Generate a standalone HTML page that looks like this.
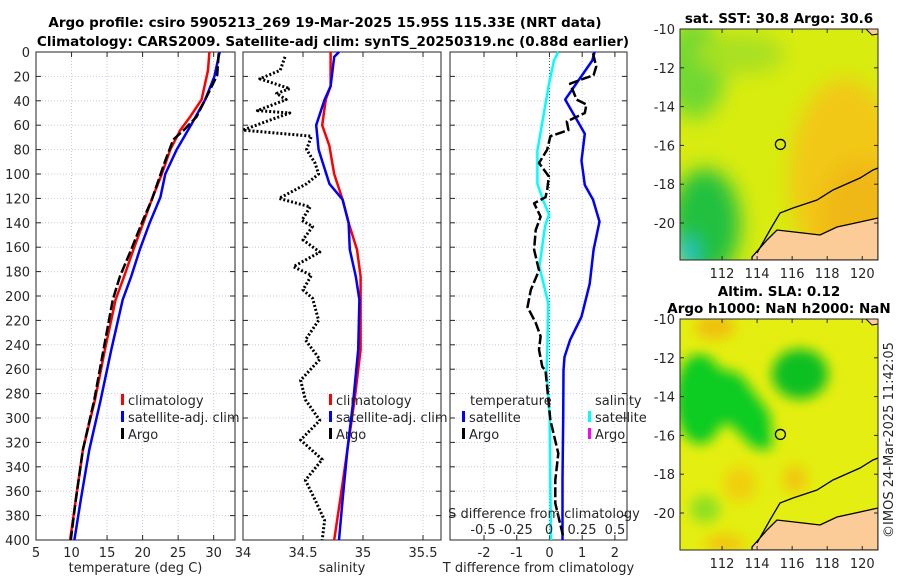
<!DOCTYPE html>
<html><head><meta charset="utf-8"><style>
html,body{margin:0;padding:0;background:#fff;}
svg{display:block;font-family:"DejaVu Sans","Liberation Sans",sans-serif;}
.t{font-size:13px;fill:#262626;}
.b{font-weight:bold;font-size:13.5px;fill:#000;}
</style></head><body>
<svg id="fig" width="900" height="580" viewBox="0 0 900 580" xmlns="http://www.w3.org/2000/svg">
<defs>
<filter id="blur6"><feGaussianBlur stdDeviation="6"/></filter>
<filter id="blur10"><feGaussianBlur stdDeviation="10"/></filter>
<clipPath id="clipM1"><rect x="680" y="29" width="198" height="231"/></clipPath>
<clipPath id="clipM2"><rect x="680" y="319" width="198" height="231"/></clipPath>
</defs>
<text class="b" x="325" y="27" text-anchor="middle">Argo profile: csiro 5905213_269 19-Mar-2025 15.95S 115.33E (NRT data)</text>
<text class="b" x="333" y="46" text-anchor="middle">Climatology: CARS2009. Satellite-adj clim: synTS_20250319.nc (0.88d earlier)</text>
<g id="panels"></g>
<g id="maps"></g>
<text class="t" transform="translate(893,440) rotate(-90)" text-anchor="middle">©IMOS 24-Mar-2025 11:42:05</text>
</svg>
<script>
// ---- data ----
const tClimDepth=[0,15,39,53,64,80,100,121,140,162,184,203,244,285,326,367,400];
const tClim=[29.4,29.2,28.3,26.7,25.3,23.9,22.7,21.3,20.1,18.7,17.4,16.2,14.7,13.3,11.6,10.6,9.8];
const tSatDepth=[0,20,39,59,80,100,119,140,162,184,203,244,285,326,367,400];
const tSat=[30.85,30.1,28.8,26.9,24.8,23.2,22.5,21.0,19.6,18.4,17.2,15.6,14.1,12.5,11.3,10.4];
const tArgoDepth=[1,19,39,53,64,72,89,121,140,162,184,203,244,285,326,367,400];
const tArgo=[30.7,30.5,28.8,27.6,25.8,24.3,23.2,21.3,19.9,18.4,16.8,15.8,14.5,13.2,11.6,10.6,9.9];
const sClimDepth=[0,28,39,60,77,100,121,140,162,184,203,244,285,326,367,400];
const sClim=[34.73,34.73,34.69,34.66,34.72,34.76,34.83,34.88,34.95,34.98,34.98,34.98,34.93,34.87,34.81,34.76];
const sSatDepth=[0,4,28,39,60,80,108,121,140,162,184,203,244,285,326,367,400];
const sSat=[34.8,34.76,34.73,34.68,34.61,34.63,34.72,34.83,34.88,34.89,34.94,34.97,34.96,34.92,34.87,34.83,34.8];
const sArgoDepth=[4,15,22,30,34,39,48,50,56,64,69,80,91,100,108,120,127,138,143,154,164,176,183,195,202,220,236,252,269,285,302,318,334,351,367,384,400];
const sArgo=[34.35,34.31,34.14,34.39,34.28,34.36,34.12,34.39,34.22,34.0,34.57,34.53,34.6,34.63,34.53,34.3,34.56,34.49,34.58,34.5,34.64,34.42,34.57,34.5,34.58,34.63,34.52,34.64,34.48,34.52,34.64,34.48,34.66,34.52,34.6,34.68,34.66];
const dTsatDepth=[0,7,39,67,89,109,121,139,162,190,217,236,250,261,300,350,400];
const dTsat=[1.38,1.31,0.48,1.08,0.98,1.08,1.33,1.53,1.35,1.23,0.98,0.63,0.46,0.43,0.42,0.4,0.4];
const dTargoDepth=[1,12,19,22,26,39,43,50,57,64,69,80,91,102,113,119,124,135,146,162,179,195,209,222,233,244,258,261,302,329,351,370,398];
const dTargo=[1.33,1.43,1.35,1.03,0.63,0.83,1.13,1.08,0.53,0.58,0.03,-0.07,-0.32,-0.02,-0.07,-0.12,-0.47,-0.27,-0.42,-0.47,-0.32,-0.57,-0.67,-0.42,-0.27,-0.32,-0.22,-0.12,0.03,0.27,0.18,0.18,0.43];
const dSsatDepth=[0,7,26,53,81,108,122,133,143,176,206,245,261,300,350,400];
const dSsat=[0.07,0.038,0,-0.043,-0.088,-0.088,-0.043,0,-0.03,-0.073,-0.005,-0.013,-0.018,0.005,0.01,0.015];
const tTicks=[5,10,15,20,25,30];
const sTicks=[34,34.5,35,35.5];
const dTicks=[-2,-1,0,1,2];
const dSTicks=[-0.5,-0.25,0,0.25,0.5];
const depthTicks=[0,20,40,60,80,100,120,140,160,180,200,220,240,260,280,300,320,340,360,380,400];
const lonTicks=[112,114,116,118,120];
const latTicks=[-10,-12,-14,-16,-18,-20];

const NS="http://www.w3.org/2000/svg";
const panels=document.getElementById('panels');
function mk(tag,attrs,parent){const e=document.createElementNS(NS,tag);for(const k in attrs)e.setAttribute(k,attrs[k]);(parent||panels).appendChild(e);return e;}
const Y0=52,Y1=540;
function yD(d){return Y0+(d/400)*(Y1-Y0);}
function axisX(x0,x1,v0,v1){return v=>x0+(v-v0)/(v1-v0)*(x1-x0);}
const xT=axisX(36,235,5,33), xS=axisX(243,441,34,35.65), xD=axisX(450,627,-3.04,2.37), xDS=axisX(549,615,0,0.5);

function frame(name,x0,x1,xt,ticks,fmt,label,showY){
  const g=mk('g',{});
  
  
  ticks.forEach(v=>{const x=xt(v);
    mk('line',{x1:x,x2:x,y1:Y0,y2:Y1,stroke:'#c5cbe6','stroke-width':1,'stroke-dasharray':'1,2'},g);
    mk('line',{x1:x,x2:x,y1:Y1,y2:Y1-5,stroke:'#262626'},g);
    mk('line',{x1:x,x2:x,y1:Y0,y2:Y0+5,stroke:'#262626'},g);
    const t=mk('text',{x:x,y:Y1+17,'text-anchor':'middle',class:'t'},g);t.textContent=fmt(v);
    
    
  });
  depthTicks.forEach(d=>{const y=yD(d);
    mk('line',{x1:x0,x2:x1,y1:y,y2:y,stroke:'#c5cbe6','stroke-width':1,'stroke-dasharray':'1,2'},g);
    mk('line',{x1:x0,x2:x0+5,y1:y,y2:y,stroke:'#262626'},g);
    mk('line',{x1:x1,x2:x1-5,y1:y,y2:y,stroke:'#262626'},g);
    if(showY){const t=mk('text',{x:x0-6,y:y+5,'text-anchor':'end',class:'t'},g);t.textContent=d;
      
      }
  });
  mk('rect',{x:x0,y:Y0,width:x1-x0,height:Y1-Y0,fill:'none',stroke:'#262626','stroke-width':1},g);
  const lt=mk('text',{x:(x0+x1)/2,y:572,'text-anchor':'middle',class:'t'},g);lt.textContent=label;
  
  
}
function line(name,xs,ds,xf,color,w,dash){
  const pts=xs.map((v,i)=>xf(v).toFixed(1)+','+yD(ds[i]).toFixed(1)).join(' ');
  const p=mk('polyline',{points:pts,fill:'none',stroke:color,'stroke-width':w,'stroke-linejoin':'round'});
  if(dash)p.setAttribute('stroke-dasharray',dash);
  
  
}
function legend(name,x,y,color,text){
  const g=mk('g',{});
  
  
  mk('rect',{x:x,y:y-11,width:3,height:11,fill:color},g);
  const t=mk('text',{x:x+7,y:y,class:'t'},g);t.textContent=text;
}

frame('temperature-axes',36,235,xT,tTicks,v=>v,'temperature (deg C)',true);
line('temp-climatology-line',tClim,tClimDepth,xT,'#ff0000',2.5);
line('temp-satellite-line',tSat,tSatDepth,xT,'#0000ff',2.5);
line('temp-argo-line',tArgo,tArgoDepth,xT,'#000000',2.5,'10,3');
legend('legend-climatology',121,405,'#ff0000','climatology');
legend('legend-satellite-adj',121,422,'#0000ff','satellite-adj. clim');
legend('legend-argo',121,439,'#000000','Argo');

frame('salinity-axes',243,441,xS,sTicks,v=>v,'salinity',false);
line('sal-climatology-line',sClim,sClimDepth,xS,'#ff0000',2.5);
line('sal-satellite-line',sSat,sSatDepth,xS,'#0000ff',2.5);
line('sal-argo-line',sArgo,sArgoDepth,xS,'#000000',3,'2,2');
legend('legend-climatology-2',329,405,'#ff0000','climatology');
legend('legend-satellite-adj-2',329,422,'#0000ff','satellite-adj. clim');
legend('legend-argo-2',329,439,'#000000','Argo');

frame('difference-axes',450,627,xD,dTicks,v=>v,'T difference from climatology',false);
mk('line',{x1:xD(0),x2:xD(0),y1:Y0,y2:Y1,stroke:'#555','stroke-width':1,'stroke-dasharray':'1,2'});
line('sal-diff-satellite-line',dSsat,dSsatDepth,xDS,'#00ffff',2.5);
line('temp-diff-satellite-line',dTsat,dTsatDepth,xD,'#0000ff',2.5);
line('temp-diff-argo-line',dTargo,dTargoDepth,xD,'#000000',2.5,'10,3');
(function(){const t=mk('text',{x:470,y:405,class:'t'});t.textContent='temperature';


const s=mk('text',{x:595,y:405,class:'t'});s.textContent='salinity';

})();
legend('legend-temp-satellite',462,422,'#0000ff','satellite');
legend('legend-temp-argo',462,439,'#000000','Argo');
legend('legend-sal-satellite',588,422,'#00ffff','satellite');
legend('legend-sal-argo',588,439,'#ff00ff','Argo');
(function(){const t=mk('text',{x:544,y:518,'text-anchor':'middle',class:'t'});t.textContent='S difference from climatology';


dSTicks.forEach(v=>{const l=mk('text',{x:xDS(v),y:534,'text-anchor':'middle',class:'t'});l.textContent=v;

});})();

// ---- maps ----
const maps=document.getElementById('maps');
const mLon=axisX(680,878,109.6,120.9);
function map(name,top,title1,title2,kind){
  const g=mk('g',{},maps);
  
  
  const latY=l=>top+(-10-l)/10*194;
  const cg=mk('g',{'clip-path':'url(#'+(kind==1?'clipM1':'clipM2')+')'},g);
  if(kind==1){
    mk('rect',{x:680,y:top,width:198,height:231,fill:'#d8ec10'},cg);
    const b=mk('g',{filter:'url(#blur10)'},cg);
    mk('ellipse',{cx:845,cy:top+150,rx:55,ry:100,fill:'#f2c818'},b);
    mk('ellipse',{cx:860,cy:top+190,rx:40,ry:60,fill:'#f0b818'},b);
    mk('ellipse',{cx:695,cy:top+40,rx:30,ry:50,fill:'#70d830'},b);
    mk('ellipse',{cx:705,cy:top+195,rx:35,ry:55,fill:'#20c040'},b);
    mk('ellipse',{cx:686,cy:top+225,rx:10,ry:16,fill:'#20c0e0'},b);
    mk('ellipse',{cx:740,cy:top+25,rx:45,ry:20,fill:'#a8e020'},b);
  }else{
    mk('rect',{x:680,y:top,width:198,height:231,fill:'#e4ee10'},cg);
    const b=mk('g',{filter:'url(#blur6)'},cg);
    mk('ellipse',{cx:700,cy:top+80,rx:25,ry:45,fill:'#10cc20'},b);
    mk('polygon',{points:'685,'+(top+40)+' 740,'+(top+55)+' 770,'+(top+95)+' 772,'+(top+130)+' 755,'+(top+130)+' 730,'+(top+105)+' 685,'+(top+110),fill:'#10cc20'},b);
    mk('ellipse',{cx:800,cy:top+55,rx:28,ry:25,fill:'#10c020'},b);
    mk('ellipse',{cx:705,cy:top+190,rx:15,ry:14,fill:'#90e020'},b);
    mk('ellipse',{cx:715,cy:top+8,rx:20,ry:12,fill:'#f0c010'},b);
    mk('ellipse',{cx:795,cy:top+160,rx:12,ry:14,fill:'#f0c810'},b);
    mk('ellipse',{cx:740,cy:top+165,rx:16,ry:18,fill:'#f0d010'},b);
    mk('ellipse',{cx:725,cy:top+225,rx:20,ry:10,fill:'#f0c810'},b);
  }
  const o=top-29;
  mk('polygon',{points:`752,${257+o} 767,${240+o} 777,${230+o} 803,${233+o} 820,${235+o} 837,${227+o} 860,${222+o} 878,${218+o} 878,${260+o} 752,${260+o}`,fill:'#fbcb98',stroke:'#000','stroke-width':1.3},cg);
  mk('polyline',{points:`757,${253+o} 770,${230+o} 780,${213+o} 793,${208+o} 817,${200+o} 833,${190+o} 860,${178+o} 873,${170+o} 878,${168+o}`,fill:'none',stroke:'#000','stroke-width':1.3},cg);
  mk('polygon',{points:`866,${29+o} 872,${35+o} 878,${34+o} 878,${29+o}`,fill:'#fbcb98',stroke:'#000','stroke-width':1},cg);
  mk('circle',{cx:mLon(115.33),cy:latY(-15.95),r:5,fill:'none',stroke:'#000','stroke-width':1.3},g);
  mk('rect',{x:680,y:top,width:198,height:231,fill:'none',stroke:'#262626'},g);
  lonTicks.forEach(v=>{const x=mLon(v);
    mk('line',{x1:x,x2:x,y1:top,y2:top+4,stroke:'#262626'},g);
    mk('line',{x1:x,x2:x,y1:top+231,y2:top+227,stroke:'#262626'},g);
    const t=mk('text',{x:x,y:top+249,'text-anchor':'middle',class:'t'},g);t.textContent=v;});
  latTicks.forEach(v=>{const y=latY(v);
    mk('line',{x1:878,x2:874,y1:y,y2:y,stroke:'#262626'},g);
    mk('line',{x1:680,x2:684,y1:y,y2:y,stroke:'#262626'},g);
    const t=mk('text',{x:675,y:y+5,'text-anchor':'end',class:'t'},g);t.textContent=v;});
  const t1=mk('text',{x:779,y:top-(title2?23:6),'text-anchor':'middle',class:'b'},g);t1.textContent=title1;
  if(title2){const t2=mk('text',{x:779,y:top-6,'text-anchor':'middle',class:'b'},g);t2.textContent=title2;}
}
map('sst-map',29,'sat. SST: 30.8 Argo: 30.6',null,1);
map('sla-map',319,'Altim. SLA: 0.12','Argo h1000: NaN h2000: NaN',2);
</script>
</body></html>
